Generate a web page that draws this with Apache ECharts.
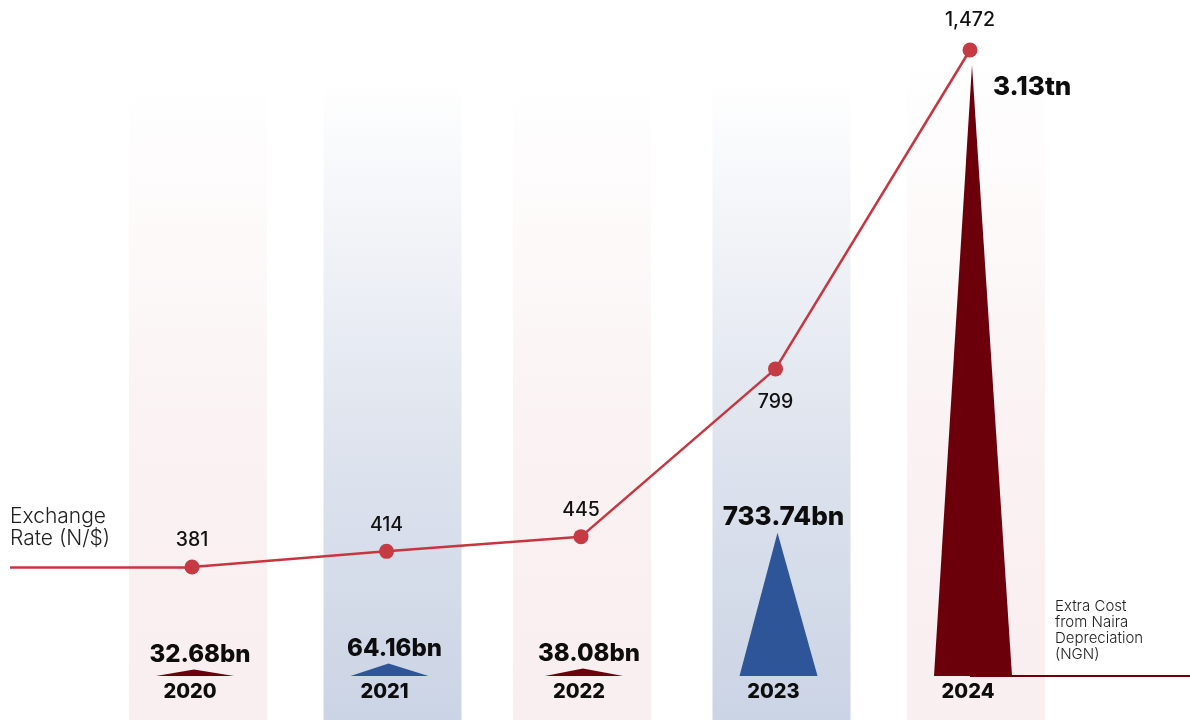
<!DOCTYPE html>
<html>
<head>
<meta charset="utf-8">
<script src="https://cdn.jsdelivr.net/npm/echarts@6/dist/echarts.min.js"></script>
<style>
html,body{margin:0;padding:0;background:#fff;}
#main{width:1190px;height:720px;}
</style>
</head>
<body>
<div id="main"></div>
<script>
// ---- data ----
const years = [2020, 2021, 2022, 2023, 2024];
const yearLabels = ['2020', '2021', '2022', '2023', '2024'];
const exchangeRate = [381, 414, 445, 799, 1472];          // N/$
const extraCostBn = [32.68, 64.16, 38.08, 733.74, 3130];   // NGN billions
const extraCostLabels = ['32.68bn', '64.16bn', '38.08bn', '733.74bn', '3.13tn'];

// ---- styles ----
const FONT = 'Inter, "Open Sans", sans-serif';
const triColors = ['#6b000b', '#2d5598', '#6b000b', '#2d5598', '#6b000b'];
const bandColors = ['#f9eef0', '#cbd4e5', '#f9eef0', '#cbd4e5', '#f9eef0'];
const bandMid = ['#faf2f3', '#dfe4ee', '#faf2f3', '#dfe4ee', '#faf2f3'];

const chart = echarts.init(document.getElementById('main'), null, {renderer: 'canvas'});

const xMin = 2020 - 192 / 194.5;
const xMax = 2020 + 998 / 194.5;

const lineData = years.map((y, i) => ({
  value: [y, exchangeRate[i]],
  label: { position: i === 3 ? 'bottom' : 'top', distance: i === 4 ? 12 : (i === 3 ? 16 : 9) }
}));

const option = {
  animation: false,
  backgroundColor: '#ffffff',
  grid: { left: 0, right: 0, top: 0, bottom: 0 },
  xAxis: { type: 'value', min: xMin, max: xMax, show: false },
  yAxis: [
    { type: 'value', min: 58.14, max: 1577.5, show: false },
    { type: 'value', min: -225.4, max: 3463, show: false }
  ],
  title: [
    { text: 'Exchange\nRate (N/$)', left: 10, top: 506, padding: 0,
      textStyle: { fontFamily: FONT, fontSize: 21, fontWeight: 300, color: '#222', lineHeight: 22 } },
    { text: 'Extra Cost\nfrom Naira\nDepreciation\n(NGN)', left: 1055, top: 598, padding: 0,
      textStyle: { fontFamily: FONT, fontSize: 15, fontWeight: 300, color: '#222', lineHeight: 16 } }
  ],
  series: [
    { // background bands
      type: 'custom', z: 1, silent: true,
      data: years.map((y, i) => [y, i]),
      renderItem: function (params, api) {
        const i = params.dataIndex;
        const c = api.coord([api.value(0), 0]);
        const cs = params.coordSys;
        const top = cs.y + (i === 4 ? 53 : 80);
        const cx = c[0] + (i === 2 ? 1 : 6);
        return {
          type: 'rect',
          shape: { x: cx - 69, y: top, width: 138, height: cs.y + cs.height - top },
          style: {
            fill: new echarts.graphic.LinearGradient(0, 0, 0, 1, [
              { offset: 0, color: '#ffffff' },
              { offset: 0.55, color: bandMid[i] },
              { offset: 1, color: bandColors[i] }
            ])
          }
        };
      }
    },
    { // baseline to the right
      type: 'line', yAxisIndex: 1, z: 2, silent: true, showSymbol: false,
      data: [[2024, 0], [xMax, 0]],
      lineStyle: { color: '#6b000b', width: 2 }
    },
    { // triangles
      type: 'custom', yAxisIndex: 1, z: 3, silent: true,
      data: years.map((y, i) => [y, extraCostBn[i]]),
      renderItem: function (params, api) {
        const i = params.dataIndex;
        const base = api.coord([api.value(0), 0]);
        const apex = api.coord([api.value(0), api.value(1)]);
        const bx = base[0] + 3;
        const last = i === years.length - 1;
        const big = api.value(1) > 500;
        return {
          type: 'group',
          children: [
            { type: 'polygon',
              shape: { points: [[bx - 39, base[1]], [apex[0] + 2, apex[1]], [bx + 39, base[1]]] },
              style: { fill: triColors[i] } },
            { type: 'text',
              style: {
                x: last ? apex[0] + 23 : apex[0] + 8,
                y: last ? apex[1] + 22 : apex[1] - 3,
                text: extraCostLabels[i],
                textAlign: last ? 'left' : 'center',
                textVerticalAlign: last ? 'middle' : 'bottom',
                fontFamily: FONT, fontSize: big ? 26 : 24, fontWeight: 800, fill: '#0d0d0d'
              } },
            { type: 'text',
              style: {
                x: base[0] - 2, y: base[1] + 16,
                text: yearLabels[i], textAlign: 'center', textVerticalAlign: 'middle',
                fontFamily: FONT, fontSize: 20, fontWeight: 800, fill: '#0d0d0d'
              } }
          ]
        };
      }
    },
    { // exchange-rate line
      type: 'line', yAxisIndex: 0, z: 4,
      data: lineData,
      symbol: 'circle', symbolSize: 15,
      itemStyle: { color: '#c63a43' },
      lineStyle: { color: '#c9353f', width: 2.5 },
      label: {
        show: true, fontFamily: FONT, fontSize: 19.5, fontWeight: 500, color: '#111',
        formatter: p => p.value[1].toLocaleString('en-US')
      },
      markLine: {
        silent: true, symbol: 'none', animation: false,
        label: { show: false },
        lineStyle: { color: '#c9353f', width: 2.5, type: 'solid' },
        data: [[{ coord: [2020 - 182 / 194.5, exchangeRate[0]] }, { coord: [years[0], exchangeRate[0]] }]]
      }
    }
  ]
};
chart.setOption(option);
</script>
</body>
</html>
